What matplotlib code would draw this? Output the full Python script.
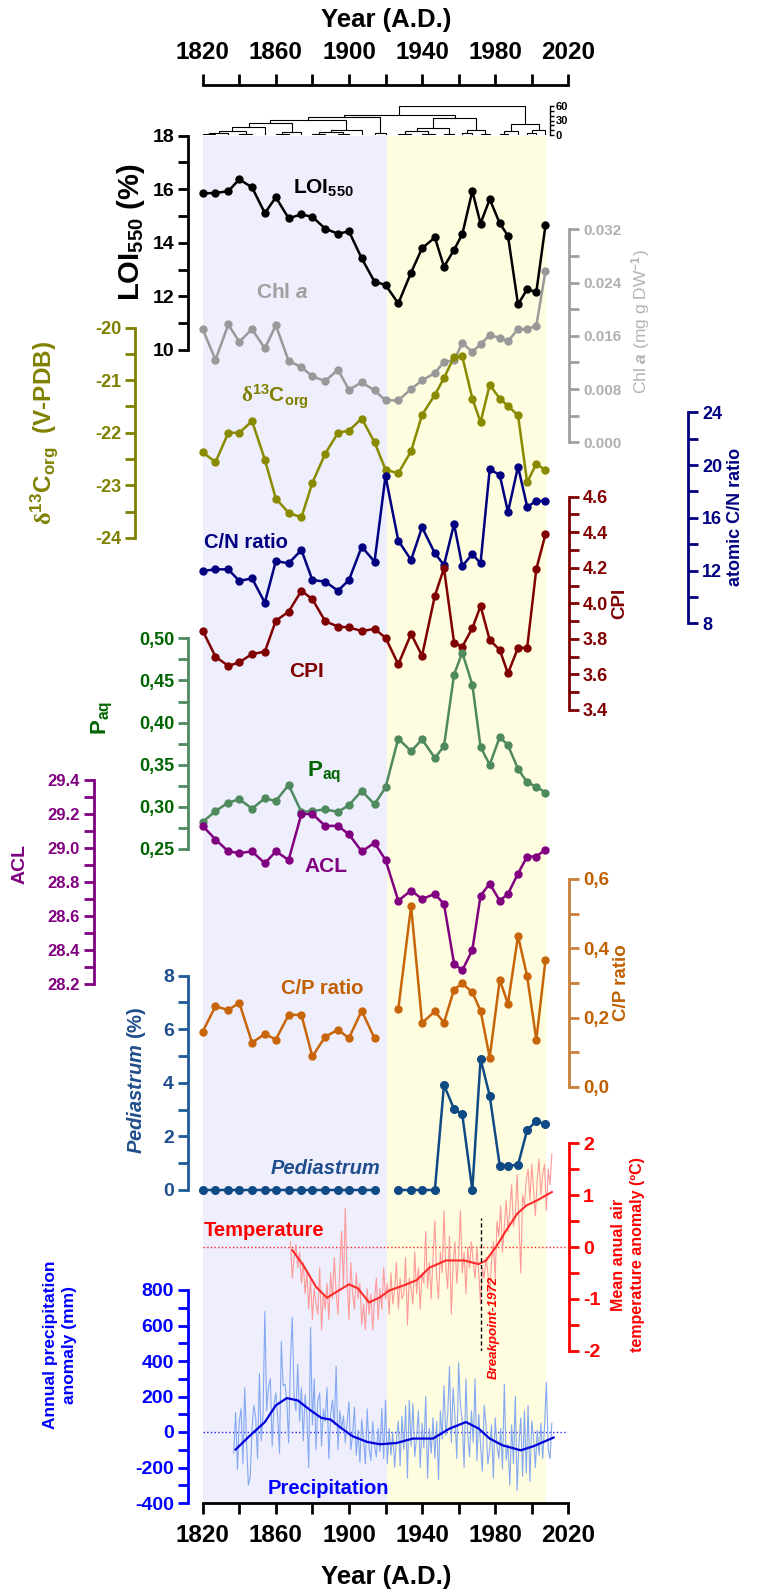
import matplotlib
matplotlib.use('Agg')
import matplotlib.pyplot as plt
import numpy as np
from matplotlib.ticker import MultipleLocator, FixedLocator, FuncFormatter

plt.rcParams['font.family'] = ['Liberation Sans', 'DejaVu Sans']
plt.rcParams['font.weight'] = 'bold'
plt.rcParams['mathtext.fontset'] = 'custom'
plt.rcParams['mathtext.rm'] = 'Liberation Serif'
plt.rcParams['mathtext.bf'] = 'Liberation Sans:bold'
plt.rcParams['mathtext.it'] = 'Liberation Sans:italic'
plt.rcParams['mathtext.sf'] = 'Liberation Sans:bold:italic'

# core sample ages (A.D.)
years = np.array([1820, 1827, 1834, 1840, 1847, 1854, 1860, 1867, 1874, 1880,
                  1887, 1894, 1900, 1907, 1914, 1920, 1927, 1934, 1940, 1947,
                  1952, 1957.5, 1962, 1967.5, 1972, 1977, 1982.5, 1987, 1992.5,
                  1997.5, 2002.5, 2007.5])

loi = [15.85, 15.86, 15.93, 16.37, 16.07, 15.11, 15.70, 14.92, 15.06, 14.97,
       14.53, 14.34, 14.43, 13.42, 12.55, 12.43, 11.74, 12.89, 13.80, 14.20,
       13.11, 13.74, 14.32, 15.93, 14.72, 15.63, 14.73, 14.26, 11.70, 12.27,
       12.16, 14.65]
chl_a = [0.0170, 0.0124, 0.0177, 0.0151, 0.0170, 0.0141, 0.0176, 0.0122, 0.0113, 0.0099,
         0.0092, 0.0109, 0.0079, 0.0090, 0.0078, 0.0063, 0.0063, 0.0080, 0.0093, 0.0104,
         0.0121, 0.0123, 0.0149, 0.0136, 0.0147, 0.0161, 0.0157, 0.0152, 0.0170, 0.0170,
         0.0175, 0.0257]
d13c = [-22.37, -22.56, -22.00, -22.00, -21.78, -22.51, -23.25, -23.52, -23.61, -22.95,
        -22.40, -22.00, -21.96, -21.73, -22.18, -22.70, -22.77, -22.35, -21.66, -21.28,
        -20.96, -20.56, -20.55, -21.35, -21.80, -21.09, -21.35, -21.49, -21.67, -22.94,
        -22.59, -22.71]
cn_ratio = [11.97, 12.09, 12.09, 11.21, 11.41, 9.56, 12.72, 12.55, 13.56, 11.28,
            11.16, 10.47, 11.28, 13.81, 12.67, 19.17, 14.27, 12.80, 15.28, 13.31,
            12.42, 15.53, 12.34, 13.25, 12.55, 19.68, 19.25, 16.44, 19.88, 16.84,
            17.27, 17.27]
cpi = [3.846, 3.700, 3.648, 3.668, 3.715, 3.728, 3.902, 3.953, 4.071, 4.023,
       3.900, 3.869, 3.865, 3.844, 3.856, 3.807, 3.657, 3.828, 3.705, 4.043,
       4.197, 3.779, 3.756, 3.860, 3.985, 3.794, 3.738, 3.606, 3.750, 3.750,
       4.193, 4.388]
paq = [0.282, 0.295, 0.305, 0.309, 0.298, 0.310, 0.307, 0.326, 0.294, 0.295,
       0.297, 0.294, 0.302, 0.319, 0.303, 0.323, 0.381, 0.366, 0.380, 0.358,
       0.372, 0.457, 0.483, 0.445, 0.371, 0.350, 0.383, 0.373, 0.345, 0.329,
       0.324, 0.317]
acl = [29.13, 29.05, 28.98, 28.97, 28.98, 28.91, 28.98, 28.93, 29.20, 29.20,
       29.13, 29.13, 29.08, 28.98, 29.03, 28.93, 28.69, 28.75, 28.70, 28.73,
       28.67, 28.32, 28.28, 28.40, 28.72, 28.79, 28.69, 28.73, 28.85, 28.95,
       28.95, 28.99]
cp_ratio = [0.160, 0.233, 0.222, 0.243, 0.128, 0.153, 0.137, 0.208, 0.208, 0.088,
            0.145, 0.165, 0.141, 0.220, 0.140, np.nan, 0.225, 0.522, 0.185, 0.218,
            0.186, 0.281, 0.299, 0.273, 0.220, 0.085, 0.309, 0.240, 0.436, 0.319,
            0.136, 0.365]
pediastrum = [0, 0, 0, 0, 0, 0, 0, 0, 0, 0,
              0, 0, 0, 0, 0, np.nan, 0, 0, 0, 0,
              3.92, 3.02, 2.82, 0, 4.89, 3.52, 0.91, 0.91, 0.94, 2.24,
              2.57, 2.45]

# cluster merges: (child a, child b, height); ids >= 32 refer to earlier merges
dendro_links = [(0, 1, 2), (32, 2, 4), (3, 4, 3), (33, 34, 9), (35, 5, 16),
                (6, 7, 3), (37, 8, 6), (36, 38, 25), (9, 10, 3), (11, 12, 2),
                (40, 41, 6), (42, 13, 10), (39, 43, 32), (14, 15, 4), (44, 45, 38),
                (16, 17, 2), (18, 19, 3), (47, 48, 8), (20, 21, 2), (49, 50, 14),
                (22, 23, 4), (24, 25, 3), (52, 53, 10), (51, 54, 35), (46, 55, 42),
                (26, 27, 3), (57, 28, 8), (29, 30, 4), (59, 31, 10), (58, 60, 22),
                (56, 61, 60)]

# instrumental records
temp_years = np.arange(1868, 2012)
temp_anom = [0.10, -0.60, -0.20, 0.05, -0.40, -0.10, -0.70, -0.30, -0.90, -0.50,
             -1.20, -0.60, -1.40, -0.80, -1.10, -1.30, -0.40, -1.60, -0.90, -1.20,
             -0.70, -1.40, -0.50, -1.00, -0.20, -0.90, -1.30, -0.40, 0.30, -0.80,
             0.75, -0.60, -1.40, -0.30, -0.90, -1.20, -0.50, -1.00, -0.70, -1.50,
             -1.10, -1.60, -0.80, -1.30, -0.90, -1.60, -1.00, -0.60, -1.40, -0.80,
             -1.20, -0.40, -1.00, -0.70, -1.30, -0.50, -1.10, -0.80, -0.30, -1.20,
             -0.60, -1.00, -0.90, -0.20, -1.50, -0.60, -0.80, -1.10, -0.10, -0.90,
             -0.40, -1.20, -0.50, -0.70, 0.30, -0.80, -0.30, -1.00, -0.20, 0.50,
             -0.60, -1.00, -0.10, -0.50, 0.70, -0.40, -0.80, 0.20, -1.30, -0.30,
             0.10, -0.70, -0.20, 0.70, -0.50, -0.10, -0.90, 0.00, -0.40, 0.10,
             -0.30, -0.60, 0.00, -0.50, -1.10, -0.40, -0.60, -0.20, -0.50, -0.90,
             -0.30, 0.10, -0.60, 0.50, 0.20, 0.80, -0.10, 0.40, 0.90, 0.30,
             0.70, 1.20, 0.40, 0.60, 1.40, 0.50, -0.50, 1.00, 0.80, 1.30,
             1.50, 0.90, 1.60, 1.10, 0.60, 1.30, 1.70, 1.00, 1.40, 1.60,
             0.70, 1.50, 1.20, 1.80]
temp_smooth_years = [1869, 1875, 1882, 1888, 1893, 1900, 1905, 1911, 1917, 1922,
                     1930, 1937, 1944, 1953, 1963, 1971, 1975, 1981, 1986, 1992,
                     1997, 2003, 2011]
temp_smooth = [-0.06, -0.35, -0.77, -0.98, -0.87, -0.72, -0.80, -1.07, -0.97, -0.84,
               -0.74, -0.64, -0.40, -0.26, -0.26, -0.33, -0.26, 0.03, 0.32, 0.64,
               0.80, 0.90, 1.06]
breakpoint_year = 1972

prec_years = np.arange(1837, 2012)
prec_anom = [-120, 110, -210, 60, 130, -180, 250, -60, -300, -250,
             20, 150, 80, -150, 330, -50, 100, 680, 120, 250,
             300, -80, 150, 220, 90, -120, 510, 260, 270, 180,
             -60, 400, 646, 200, 120, 380, 60, 250, -50, 210,
             90, -200, 590, 40, 300, -100, 180, 220, -80, 130,
             60, 250, -150, 100, 180, 40, 369, -100, 120, 20,
             90, -60, 50, 170, -100, -20, 140, -130, 10, -170,
             70, -50, -180, 130, -90, -160, 60, -80, -140, 20,
             -110, 130, -150, 180, -180, 20, -130, 0, -200, -40,
             60, -190, 90, -100, 150, -260, 180, -80, 160, -140,
             -30, 120, -200, 50, -90, 200, -260, 20, -120, 80,
             -150, 60, -270, 120, -40, 260, -20, 90, 370, -60,
             250, 80, -150, 390, 150, 60, -200, 300, -20, -140,
             120, -60, 300, -160, 100, -80, -220, 150, 40, -180,
             -100, 40, -260, 80, -80, -150, 20, -210, 270, -160,
             -70, -300, 40, -180, 200, -330, -60, 80, -250, 120,
             -230, 150, -280, 60, -30, -200, 10, -130, 50, -150,
             30, 280, -100, -150, 50]
prec_smooth_years = [1838, 1846, 1854, 1860, 1866, 1872, 1879, 1885, 1890, 1895,
                     1902, 1910, 1917, 1926, 1935, 1946, 1955, 1964, 1971, 1977,
                     1984, 1994, 2001, 2012]
prec_smooth = [-99, -19, 56, 150, 191, 178, 122, 79, 70, 28,
               -24, -56, -69, -62, -37, -37, 19, 56, 19, -37,
               -75, -103, -80, -31]

year_ticks = [1820, 1860, 1900, 1940, 1980, 2020]

# figure geometry in pixels
W, H = 757, 1593
X0, X1 = 202.7, 568.3


def px_box(top, bottom):
    return [X0 / W, 1 - bottom / H, (X1 - X0) / W, (bottom - top) / H]


def ftext(x, y, s, **kw):
    kw.setdefault('ha', 'center')
    kw.setdefault('va', 'center')
    return fig.text(x / W, 1 - y / H, s, **kw)


def panel(top, bottom, lo, hi, side, spine_x, color, labelcolor,
          major, minor, fmt, fs=13):
    ax = fig.add_axes(px_box(top, bottom))
    ax.set_xlim(1820, 2020)
    ax.set_ylim(lo, hi)
    ax.patch.set_visible(False)
    for s in ax.spines.values():
        s.set_visible(False)
    ax.xaxis.set_visible(False)
    sp = ax.spines[side]
    sp.set_visible(True)
    sp.set_color(color)
    sp.set_linewidth(2)
    off = X0 - spine_x if side == 'left' else spine_x - X1
    sp.set_position(('outward', off * 0.72))
    ax.yaxis.set_ticks_position(side)
    ax.yaxis.set_major_locator(MultipleLocator(major))
    ax.yaxis.set_minor_locator(MultipleLocator(minor))
    ax.yaxis.set_major_formatter(FuncFormatter(fmt))
    ax.tick_params(axis='y', which='both', length=7, width=2, color=color,
                   labelcolor=labelcolor, labelsize=fs, pad=3)
    return ax


fig = plt.figure(figsize=(W / 100, H / 100), dpi=100)

# shared time axis with the two zones
base = fig.add_axes(px_box(85, 1503))
base.set_xlim(1820, 2020)
base.set_ylim(0, 1)
shade_top = (1503 - 136) / (1503 - 85)
base.axvspan(1820, 1921, ymax=shade_top, color='#eeeefc', lw=0)
base.axvspan(1921, 2008, ymax=shade_top, color='#fefde0', lw=0)
base.spines['left'].set_visible(False)
base.spines['right'].set_visible(False)
base.spines['top'].set_linewidth(2)
base.spines['bottom'].set_linewidth(2)
base.set_yticks([])
base.xaxis.set_major_locator(FixedLocator(year_ticks))
base.xaxis.set_minor_locator(MultipleLocator(20))
base.tick_params(axis='x', which='both', top=True, bottom=True, labeltop=True,
                 labelbottom=True, length=8, width=2, labelsize=17.5, pad=7)
ftext(386, 20, 'Year (A.D.)', fontsize=18.5)
ftext(386, 1577, 'Year (A.D.)', fontsize=18.5)

# cluster tree above the records
dax = fig.add_axes(px_box(106, 135))
dax.set_xlim(1820, 2020)
dax.set_ylim(0, 60)
dax.patch.set_visible(False)
for s in dax.spines.values():
    s.set_visible(False)
dax.xaxis.set_visible(False)
dax.spines['right'].set_visible(True)
dax.spines['right'].set_position(('data', 2010))
dax.spines['right'].set_linewidth(1)
dax.yaxis.set_ticks_position('right')
dax.yaxis.set_major_locator(MultipleLocator(30))
dax.yaxis.set_minor_locator(MultipleLocator(10))
dax.tick_params(axis='y', which='both', length=3, width=1, labelsize=8, pad=1)
xpos = list(years)
hpos = [0.0] * len(years)
for a, b, h in dendro_links:
    dax.plot([xpos[a], xpos[a], xpos[b], xpos[b]], [hpos[a], h, h, hpos[b]],
             color='k', lw=0.8, solid_joinstyle='miter')
    xpos.append((xpos[a] + xpos[b]) / 2)
    hpos.append(h)

mk = dict(marker='o', lw=1.8, ms=5, clip_on=False)

# LOI
ax = panel(135.7, 350, 10, 18, 'left', 188, 'black', 'black', 2, 1,
           lambda v, p: f'{v:.0f}', 14)
ax.plot(years, loi, color='black', **mk)
ftext(131, 232, r'$\mathbf{LOI_{550}}$ (%)', fontsize=21, rotation=90)
ftext(323, 188, r'$\mathbf{LOI_{550}}$', fontsize=15)

# Chlorophyll a
ax = panel(229.3, 442.3, 0, 0.032, 'right', 569, '#a0a0a0', '#b0b0b0', 0.008, 0.004,
           lambda v, p: f'{v:.3f}', 11)
ax.plot(years, chl_a, color='#999999', **mk)
ftext(641, 322, r'Chl $\mathit{a}$ (mg g DW$^{\mathbf{-1}}$)', fontsize=12.5,
      fontweight='normal', color='#b4b4b4', rotation=90)
ftext(282, 293, r'Chl $\mathsf{a}$', fontsize=15, color='#a0a0a0')

# d13C
ax = panel(327.5, 538, -24, -20, 'left', 135, '#808000', '#808000', 1, 0.5,
           lambda v, p: f'{v:.0f}', 13)
ax.plot(years, d13c, color='#8a8a00', **mk)
ftext(44, 433, r'$\mathrm{\delta}^{\mathbf{13}}\mathbf{C_{org}}$  (V-PDB)',
      fontsize=17.5, color='#808000', rotation=90)
ftext(275, 397, r'$\mathrm{\delta}^{\mathbf{13}}\mathbf{C_{org}}$', fontsize=15,
      color='#808000')

# C/N
ax = panel(412.3, 623.3, 8, 24, 'right', 688, '#000080', '#000080', 4, 2,
           lambda v, p: f'{v:.0f}', 13)
ax.plot(years, cn_ratio, color='#000080', **mk)
ftext(735, 517, 'atomic C/N ratio', fontsize=13, color='#000080', rotation=90)
ftext(246, 543, 'C/N ratio', fontsize=14.5, color='#000080')

# CPI
ax = panel(496.7, 710, 3.4, 4.6, 'right', 569, '#800000', '#800000', 0.2, 0.1,
           lambda v, p: f'{v:.1f}', 13)
ax.plot(years, cpi, color='#800000', **mk)
ftext(620, 603, 'CPI', fontsize=13.5, color='#800000', rotation=90)
ftext(306, 672, 'CPI', fontsize=15, color='#800000')

# Paq
ax = panel(638.3, 849, 0.25, 0.50, 'left', 188, '#4f8a5f', '#006400', 0.05, 0.025,
           lambda v, p: f'{v:.2f}'.replace('.', ','), 13)
ax.plot(years, paq, color='#4f8a5f', **mk)
ftext(102, 718, r'$\mathbf{P_{aq}}$', fontsize=16, color='#006400', rotation=90)
ftext(324, 772, r'$\mathbf{P_{aq}}$', fontsize=16, color='#006400')

# ACL
ax = panel(780, 984, 28.2, 29.4, 'left', 94, '#800080', '#800080', 0.2, 0.1,
           lambda v, p: f'{v:.1f}', 12)
ax.plot(years, acl, color='#800080', **mk)
ftext(20, 864, 'ACL', fontsize=14, color='#800080', rotation=90)
ftext(326, 867, 'ACL', fontsize=15, color='#800080')

# C/P
ax = panel(879, 1087, 0, 0.6, 'right', 569, '#c8803a', '#c06000', 0.2, 0.1,
           lambda v, p: f'{v:.1f}'.replace('.', ','), 13.5)
ax.plot(years, cp_ratio, color='#c8650a', **mk)
ftext(622, 983, 'C/P ratio', fontsize=13.5, color='#c06000', rotation=90)
ftext(322, 988, 'C/P ratio', fontsize=14.5, color='#c06000')

# Pediastrum
ax = panel(975.7, 1190, 0, 8, 'left', 188, '#1f5b99', '#1f4e8c', 2, 1,
           lambda v, p: f'{v:.0f}', 14)
ax.plot(years, pediastrum, color='#104a85', marker='o', lw=1.8, ms=5.5,
        clip_on=False)
ftext(137, 1080, r'$\mathsf{Pediastrum}$ (%)', fontsize=14.5, color='#1f4e8c',
      rotation=90)
ftext(326, 1168, 'Pediastrum', fontsize=14.5, color='#1f4e8c', style='italic')

# temperature
ax = panel(1143.3, 1350.7, -2, 2, 'right', 569, '#ff0000', '#ff0000', 1, 0.5,
           lambda v, p: f'{v:.0f}', 14)
ax.axhline(0, color='#ff2020', ls=':', lw=1)
ax.plot(temp_years, temp_anom, color='#ff9a9a', lw=0.8)
ax.plot(temp_smooth_years, temp_smooth, color='#ff2a2a', lw=1.5)
ax.vlines(breakpoint_year, -2.03, 0.55, color='black', lw=1, linestyles=(0, (3, 2)))
ax.text(breakpoint_year + 7, -1.55, 'Breakpoint-1972', rotation=90, ha='center',
        va='center', fontsize=9.5, style='italic', color='#ff0000')
ftext(628, 1255, 'Mean anual air\ntemperature anomaly (ºC)', fontsize=11.5,
      color='#ff0000', rotation=90, linespacing=1.3)
ftext(264, 1230, 'Temperature', fontsize=14.5, color='#ff0000')

# precipitation
ax = panel(1290, 1503, -400, 800, 'left', 188, '#0000ff', '#0000ff', 200, 100,
           lambda v, p: f'{v:.0f}', 14)
ax.axhline(0, color='#2020ff', ls=':', lw=1)
ax.plot(prec_years, prec_anom, color='#85a8f2', lw=0.8)
ax.plot(prec_smooth_years, prec_smooth, color='#0000dd', lw=1.6)
ftext(60, 1345, 'Annual precipitation\nanomaly (mm)', fontsize=12.5,
      color='#0000ff', rotation=90, linespacing=1.3)
ftext(328, 1488, 'Precipitation', fontsize=14.5, color='#0000ff')

fig.savefig('out.png', dpi=100)
